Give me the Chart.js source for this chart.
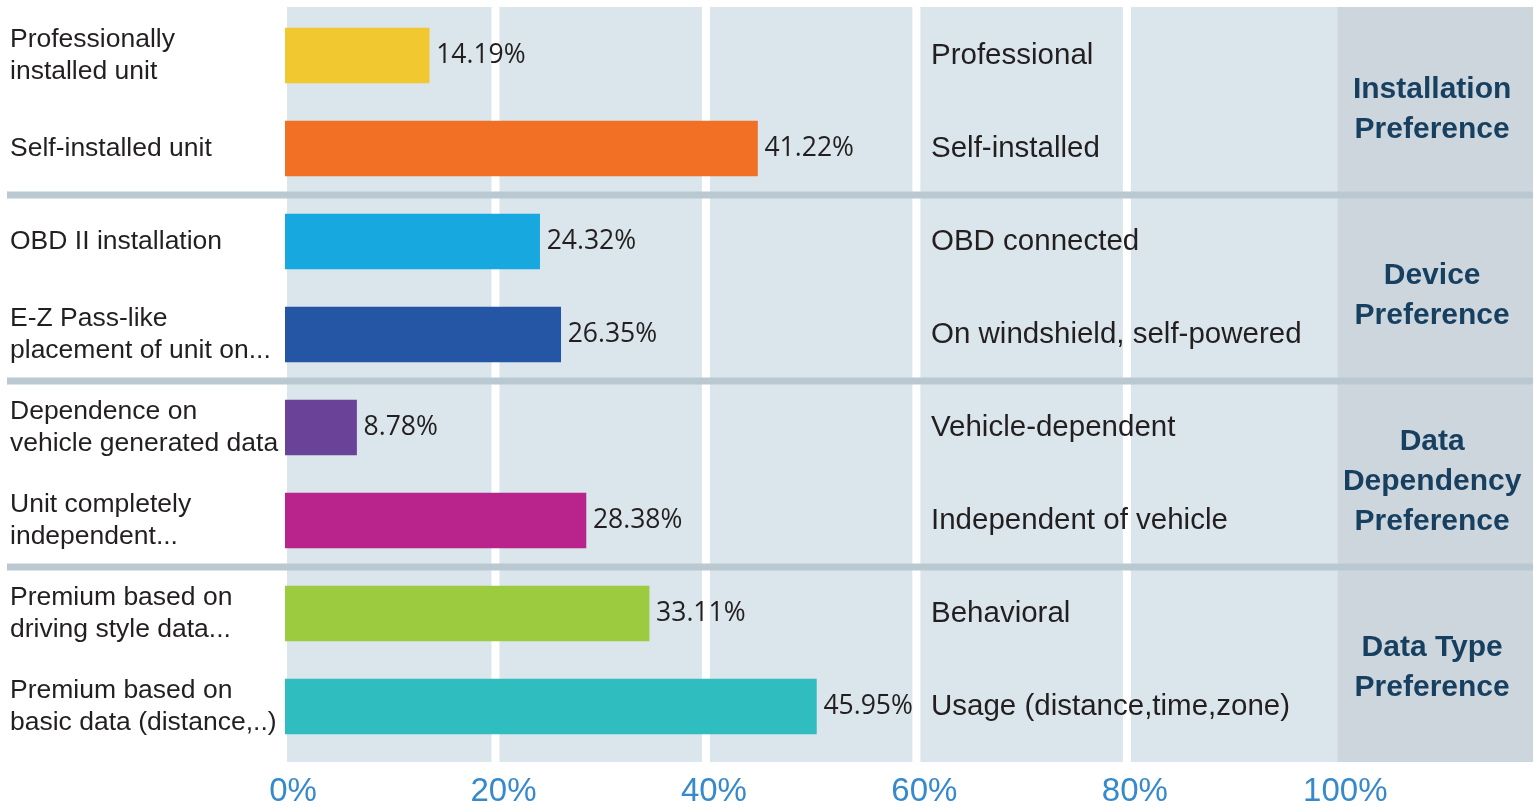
<!DOCTYPE html>
<html>
<head>
<meta charset="utf-8">
<script src="https://cdn.jsdelivr.net/npm/chart.js@4.4.1/dist/chart.umd.min.js"></script>
<style>
  body { margin: 0; background: #ffffff; }
  canvas { display: block; }
</style>
</head>
<body>
<canvas id="prefChart" width="1539" height="812"></canvas>
<script>
// row labels (left side), bar lengths as drawn, printed percentages
const categories = [
    ["Professionally", "installed unit"],
    ["Self-installed unit"],
    ["OBD II installation"],
    ["E-Z Pass-like", "placement of unit on..."],
    ["Dependence on", "vehicle generated data"],
    ["Unit completely", "independent..."],
    ["Premium based on", "driving style data..."],
    ["Premium based on", "basic data (distance,..)"]
];
const barValues = [13.7, 44.9, 24.2, 26.2, 6.8, 28.6, 34.6, 50.5];
const pctLabels = ["14.19%", "41.22%", "24.32%", "26.35%", "8.78%", "28.38%", "33.11%", "45.95%"];
const shortNames = [
    "Professional", "Self-installed",
    "OBD connected", "On windshield, self-powered",
    "Vehicle-dependent", "Independent of vehicle",
    "Behavioral", "Usage (distance,time,zone)"
];
const groupNames = [
    ["Installation", "Preference"],
    ["Device", "Preference"],
    ["Data", "Dependency", "Preference"],
    ["Data Type", "Preference"]
];
const barColors = ["#f1c82f", "#f26f26", "#17a8e0", "#2556a5", "#6a4399", "#b8248b", "#9ccb3f", "#2fbdc0"];
const xTicks = [0, 20, 40, 60, 80, 100];

const BG = "#dae6eb";
const BAND = "#cdd6dd";
const SEP = "#bac9d1";

// backgrounds, white gridlines, group separators
const backdrop = {
    id: 'backdrop',
    beforeDatasetsDraw(chart) {
        const { ctx, chartArea } = chart;
        const xs = chart.scales.x, ys = chart.scales.y;
        const top = chartArea.top - 2, bottom = chartArea.bottom + 9;
        const x0 = xs.getPixelForValue(0) + 2, x100 = xs.getPixelForValue(100);
        ctx.save();
        ctx.fillStyle = BG;
        ctx.fillRect(x0, top, x100 - x0, bottom - top);
        ctx.fillStyle = BAND;
        ctx.fillRect(x100, top, chartArea.right - x100, bottom - top);
        ctx.fillStyle = '#ffffff';
        [20, 40, 60, 80].forEach(v => {
            const px = xs.getPixelForValue(v);
            ctx.fillRect(px - 4, top, 8, bottom - top);
        });
        ctx.fillStyle = SEP;
        for (let g = 1; g < groupNames.length; g++) {
            const ya = ys.getPixelForValue(g * 2 - 1);
            const yb = ys.getPixelForValue(g * 2);
            const ym = (ya + yb) / 2;
            ctx.fillRect(7, ym - 3.5, chartArea.right - 7, 7);
        }
        ctx.restore();
    }
};

// percent labels, middle names, group titles
const textLayer = {
    id: 'textLayer',
    afterDatasetsDraw(chart) {
        const { ctx, chartArea } = chart;
        const xs = chart.scales.x, ys = chart.scales.y;
        const meta = chart.getDatasetMeta(0);
        ctx.save();
        ctx.textBaseline = 'middle';
        ctx.textAlign = 'left';
        meta.data.forEach((bar, i) => {
            ctx.fillStyle = '#231f20';
            ctx.font = '26.5px "Open Sans"';
            ctx.fillText(pctLabels[i], bar.x + 7, bar.y);
            ctx.font = '29.5px "Liberation Sans"';
            ctx.fillText(shortNames[i], 931, bar.y);
        });
        const cx = (xs.getPixelForValue(100) + chartArea.right) / 2 - 3;
        ctx.textAlign = 'center';
        ctx.fillStyle = '#173f5f';
        ctx.font = 'bold 30px "Liberation Sans"';
        groupNames.forEach((lines, g) => {
            const ym = (ys.getPixelForValue(g * 2) + ys.getPixelForValue(g * 2 + 1)) / 2 + 8;
            const start = ym - (lines.length - 1) * 20;
            lines.forEach((t, k) => ctx.fillText(t, cx, start + k * 40));
        });
        ctx.restore();
    }
};

const ctx = document.getElementById('prefChart').getContext('2d');
new Chart(ctx, {
    type: 'bar',
    data: {
        labels: categories,
        datasets: [{
            data: barValues,
            backgroundColor: barColors,
            borderWidth: 0,
            barThickness: 55
        }]
    },
    options: {
        indexAxis: 'y',
        responsive: false,
        animation: false,
        layout: { padding: { left: 10, right: 6, top: 9, bottom: 0 } },
        plugins: {
            legend: { display: false },
            tooltip: { enabled: false }
        },
        scales: {
            x: {
                min: 0,
                max: 118.6,
                grid: { display: false, drawTicks: false },
                border: { display: false },
                afterBuildTicks: scale => { scale.ticks = xTicks.map(v => ({ value: v })); },
                afterFit: scale => { scale.height = 59; },
                ticks: {
                    padding: 19,
                    labelOffset: 8,
                    color: '#3589cc',
                    font: { family: 'Liberation Sans', size: 33 },
                    callback: v => v + '%'
                }
            },
            y: {
                grid: { display: false, drawTicks: false },
                border: { display: false },
                afterFit: scale => {
                    scale.width = 275;
                    scale.paddingTop = 0;
                    scale.paddingBottom = 0;
                },
                ticks: {
                    crossAlign: 'far',
                    padding: 0,
                    color: '#231f20',
                    font: { family: 'Liberation Sans', size: 26.5, lineHeight: 1.2 }
                }
            }
        }
    },
    plugins: [backdrop, textLayer]
});
</script>
</body>
</html>
